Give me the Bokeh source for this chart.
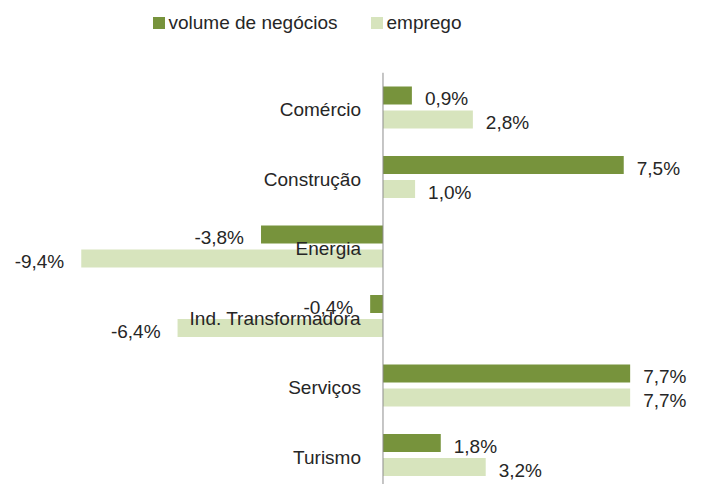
from bokeh.plotting import figure
from bokeh.models import ColumnDataSource, Range1d
from bokeh.transform import dodge
from bokeh.embed import file_html
from bokeh.resources import INLINE
from bokeh.core.properties import value

categories = ["Comércio", "Construção", "Energia", "Ind. Transformadora", "Serviços", "Turismo"]
volume_negocios = [0.9, 7.5, -3.8, -0.4, 7.7, 1.8]
emprego = [2.8, 1.0, -9.4, -6.4, 7.7, 3.2]
series_names = ["volume de negócios", "emprego"]

DARK = "#77933C"
LIGHT = "#D7E4BD"
TXT = "#262626"
FONT = value("Liberation Sans")
FS = "19px"

pos = list(range(len(categories)))

def fmt(v):
    return ("%.1f%%" % v).replace(".", ",")

def src(vals):
    return ColumnDataSource(dict(
        y=pos, v=vals, lab=[fmt(v) for v in vals],
        align=["left" if v >= 0 else "right" for v in vals],
        xo=[13 if v >= 0 else -17 for v in vals],
    ))

s1 = src(volume_negocios)
s2 = src(emprego)
cat_src = ColumnDataSource(dict(y=pos, name=categories, x=[0] * len(pos)))

p = figure(width=704, height=484, output_backend="svg", toolbar_location=None,
           x_range=Range1d(-11.916, 10.016), y_range=Range1d(5.424, -1.540),
           x_axis_type=None, y_axis_type=None,
           min_border_left=0, min_border_right=0, min_border_bottom=0, min_border_top=0)
p.grid.visible = False
p.outline_line_color = None
p.background_fill_color = "white"

bh = 0.259
off = 0.173
p.hbar(y=dodge("y", -off, range=p.y_range), right="v", left=0, height=bh, source=s1,
       fill_color=DARK, line_color=None, legend_label=series_names[0])
p.hbar(y=dodge("y", off, range=p.y_range), right="v", left=0, height=bh, source=s2,
       fill_color=LIGHT, line_color=None, legend_label=series_names[1])

# zero axis line spanning the category bands
p.segment(x0=[0], x1=[0], y0=[-0.5], y1=[len(categories) - 0.5],
          line_color="#8c8c8c", line_width=1)

for s, o in ((s1, -off), (s2, off)):
    p.text(x="v", y=dodge("y", o, range=p.y_range), text="lab", source=s,
           text_align="align", x_offset="xo", y_offset=3, text_baseline="middle",
           text_font=FONT, text_font_size=FS, text_color=TXT)

p.text(x="x", y="y", text="name", source=cat_src, text_align="right", x_offset=-22,
       y_offset=2, text_baseline="middle", text_font=FONT, text_font_size=FS, text_color=TXT)

lg = p.legend[0]
lg.orientation = "horizontal"
lg.location = (150.5, 450.5)
lg.glyph_width = 15
lg.glyph_height = 15
lg.label_standoff = 3
lg.spacing = 31
lg.padding = 0
lg.margin = 0
lg.border_line_color = None
lg.background_fill_alpha = 0
lg.label_text_font = "Liberation Sans"
lg.label_text_font_size = FS
lg.label_text_color = TXT

open("out.html", "w").write(file_html(p, INLINE))
